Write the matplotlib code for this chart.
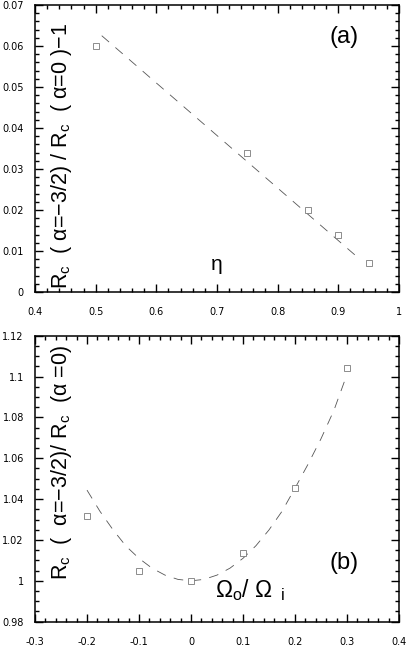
import numpy as np
import matplotlib
matplotlib.use("Agg")
import matplotlib.pyplot as plt
from matplotlib.ticker import MultipleLocator, FormatStrFormatter
from matplotlib import font_manager

names = set(f.name for f in font_manager.fontManager.ttflist)
NARROW = "Liberation Sans Narrow" if "Liberation Sans Narrow" in names else "Liberation Sans"

# -----------------------------
# DATA
# -----------------------------
# panel (a): eta vs relative change of Rc
eta = [0.5, 0.75, 0.85, 0.9, 0.95]
rc_rel = [0.060, 0.034, 0.020, 0.014, 0.007]
# dashed fit line (a)
fit_a_x = [0.51, 0.93]
fit_a_y = [0.0625, 0.0087]

# panel (b): Omega_o/Omega_i vs ratio of Rc
omega = [-0.2, -0.1, 0.0, 0.1, 0.2, 0.3]
rc_ratio = [1.0315, 1.0048, 1.0000, 1.0137, 1.0456, 1.1043]
# dashed fit curve (b)
fit_b_x = [-0.2, -0.175, -0.15, -0.125, -0.1, -0.075, -0.05, -0.025, 0.0,
           0.025, 0.05, 0.075, 0.1, 0.125, 0.15, 0.175, 0.2, 0.225, 0.25,
           0.275, 0.295]
fit_b_y = [1.0444, 1.0340, 1.0250, 1.0170, 1.0110, 1.0062, 1.0028, 1.0007,
           1.0000, 1.0007, 1.0028, 1.0062, 1.0110, 1.0172, 1.0249, 1.0340,
           1.0453, 1.0570, 1.0695, 1.0835, 1.0975]

plt.rcParams["axes.unicode_minus"] = False
plt.rcParams["lines.scale_dashes"] = False
plt.rcParams["mathtext.fontset"] = "custom"
plt.rcParams["mathtext.rm"] = NARROW
plt.rcParams["mathtext.it"] = NARROW

fig = plt.figure(figsize=(4.08, 6.48), dpi=100)
ax1 = fig.add_axes([0.0858, 0.5494, 0.892, 0.443])
ax2 = fig.add_axes([0.0858, 0.0406, 0.892, 0.4414])


def style_axis(ax, xmaj, xmin, ymaj, ymin):
    ax.xaxis.set_major_locator(MultipleLocator(xmaj))
    ax.xaxis.set_minor_locator(MultipleLocator(xmin))
    ax.yaxis.set_major_locator(MultipleLocator(ymaj))
    ax.yaxis.set_minor_locator(MultipleLocator(ymin))
    ax.xaxis.set_major_formatter(FormatStrFormatter("%g"))
    ax.yaxis.set_major_formatter(FormatStrFormatter("%g"))
    ax.tick_params(which="both", direction="in", top=True, right=True, width=1.0)
    ax.tick_params(which="major", length=5.5)
    ax.tick_params(which="minor", length=3)
    ax.tick_params(axis="x", which="both", pad=11, labelsize=7)
    ax.tick_params(axis="y", which="both", pad=8, labelsize=7)
    for s in ax.spines.values():
        s.set_linewidth(1.1)


# -----------------------------
# PANEL (a)
# -----------------------------
ax1.plot(fit_a_x, fit_a_y, color="#555555", lw=0.6, dashes=(7, 6))
ax1.plot(eta, rc_rel, ls="none", marker="s", ms=4, mfc="white",
         mec="#7a7a7a", mew=0.6)
ax1.set_xlim(0.4, 1.0)
ax1.set_ylim(0, 0.07)
style_axis(ax1, 0.1, 0.02, 0.01, 0.002)

ax1.text(0.072, 0.474, r"R$_\mathrm{c}$  ( α=−3/2) / R$_\mathrm{c}$  ( α=0 )−1",
         transform=ax1.transAxes, rotation=90, ha="center", va="center",
         fontsize=15.5, family=NARROW, clip_on=False)
ax1.text(0.5, 0.077, "η", transform=ax1.transAxes, ha="center",
         va="baseline", fontsize=15, family=NARROW)
ax1.text(0.849, 0.889, "(a)", transform=ax1.transAxes, ha="center",
         va="center", fontsize=17, family=NARROW)

# -----------------------------
# PANEL (b)
# -----------------------------
ax2.plot(fit_b_x, fit_b_y, color="#555555", lw=0.6, dashes=(7, 6))
ax2.plot(omega, rc_ratio, ls="none", marker="s", ms=4, mfc="white",
         mec="#7a7a7a", mew=0.6)
ax2.set_xlim(-0.3, 0.4)
ax2.set_ylim(0.98, 1.12)
style_axis(ax2, 0.1, 0.02, 0.02, 0.005)

ax2.text(0.072, 0.555, r"R$_\mathrm{c}$  (  α=−3/2)/ R$_\mathrm{c}$  (α =0)",
         transform=ax2.transAxes, rotation=90, ha="center", va="center",
         fontsize=15.5, family=NARROW, clip_on=False)
ax2.text(0.4945, 0.086, r"Ω$_\mathrm{o}$/ Ω$_{\ \ \mathrm{i}}$",
         transform=ax2.transAxes, ha="left", va="baseline", fontsize=16.5,
         family=NARROW)
ax2.text(0.849, 0.205, "(b)", transform=ax2.transAxes, ha="center",
         va="center", fontsize=17, family=NARROW)

fig.savefig("out.png", dpi=100)
